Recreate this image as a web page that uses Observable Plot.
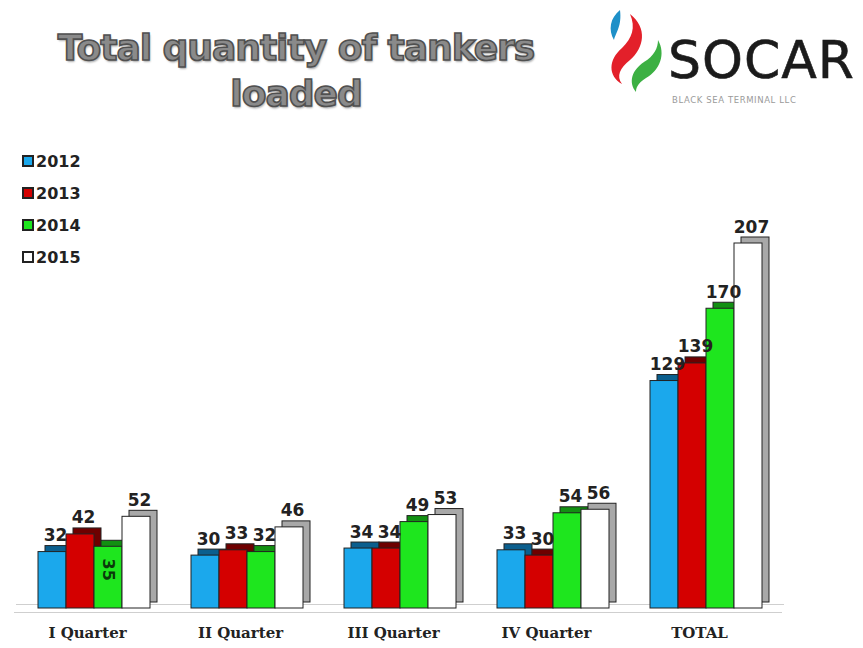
<!DOCTYPE html>
<html>
<head>
<meta charset="utf-8">
<script src="https://cdn.jsdelivr.net/npm/d3@7"></script>
<script src="https://cdn.jsdelivr.net/npm/@observablehq/plot@0.6"></script>
<style>
  html, body { margin: 0; padding: 0; background: #fff; }
  #wrap { position: relative; width: 863px; height: 648px; overflow: hidden; font-family: "DejaVu Sans", sans-serif; }
  #header { position: absolute; left: 0; top: 0; width: 863px; height: 130px; }
  #title { position: absolute; left: 6px; top: 25px; width: 580px; text-align: center;
    font-family: "DejaVu Sans", sans-serif; font-weight: 900; font-size: 36px; line-height: 46px;
    color: #8a8a8a; -webkit-text-stroke: 1.6px #505050; text-shadow: 1px 2px 2px #b0b0b0; letter-spacing: -1px; }
  #socar { position: absolute; left: 668px; top: 30px; font-family: "DejaVu Sans", sans-serif; font-size: 52px; color: #1b1b1b; letter-spacing: 1px; -webkit-text-stroke: 0.6px #1b1b1b; }
  #bst { position: absolute; left: 672px; top: 95px; font-family: "DejaVu Sans", sans-serif; font-size: 8.5px; color: #9a9a9a; letter-spacing: 0.6px; }
  #logo { position: absolute; left: 600px; top: 2px; }
  #chart { position: absolute; left: 0; top: 130px; }
  #legend { position: absolute; left: 22px; top: 145px; }
  .li { display: flex; align-items: center; height: 32px; font-family: "DejaVu Sans", sans-serif; font-weight: bold; font-size: 16px; color: #222; }
  .sw { width: 8px; height: 8px; border: 2px solid #222; margin-right: 2px; }
</style>
</head>
<body>
<div id="wrap">
  <div id="header">
    <div id="title">Total quantity of tankers<br>loaded</div>
    <svg id="logo" width="70" height="92" viewBox="0 0 70 92">
      <path d="M20 8 C10 16 8 28 14 38 C16 30 22 24 20 8 Z" fill="#1e90c8"/>
      <path d="M30 12 C48 26 44 46 30 58 C20 66 16 74 22 82 C8 74 8 58 22 46 C32 36 36 26 30 12 Z" fill="#e3202a"/>
      <path d="M58 38 C66 52 60 68 46 76 C40 80 36 84 36 90 C28 80 32 68 44 60 C54 54 58 46 58 38 Z" fill="#3cb043"/>
    </svg>
    <div id="socar">SOCAR</div>
    <div id="bst">BLACK SEA TERMINAL LLC</div>
  </div>
  <div id="chart"></div>
  <div id="legend"></div>
</div>
<script>
const quarters = ["I Quarter", "II Quarter", "III Quarter", "IV Quarter", "TOTAL"];
const years = ["2012", "2013", "2014", "2015"];
const v2012 = [32, 30, 34, 33, 129];
const v2013 = [42, 33, 34, 30, 139];
const v2014 = [35, 32, 49, 54, 170];
const v2015 = [52, 46, 53, 56, 207];
const insideLabels = ["I Quarter|2014"];

const series = {"2012": v2012, "2013": v2013, "2014": v2014, "2015": v2015};
const front = {"2012": "#1ba8ec", "2013": "#d40000", "2014": "#1ee61e", "2015": "#ffffff"};
const back = {"2012": "#0b5f8e", "2013": "#6e0000", "2014": "#129012", "2015": "#a8a8a8"};

const data = [];
quarters.forEach((q, i) => years.forEach(y => data.push({quarter: q, year: y, value: series[y][i]})));
const isInside = d => insideLabels.includes(d.quarter + "|" + d.year);

const chart = Plot.plot({
  width: 863,
  height: 518,
  marginTop: 113,
  marginBottom: 40,
  marginLeft: 38,
  marginRight: 101,
  fx: {domain: quarters, paddingInner: 0.27, paddingOuter: 0, label: null, axis: "bottom",
       tickSize: 0, tickPadding: 19},
  x: {domain: years, padding: 0, axis: null},
  y: {domain: [0, 207], axis: null},
  color: {type: "identity"},
  style: {fontFamily: "DejaVu Sans, sans-serif", background: "transparent", overflow: "visible"},
  marks: [
    Plot.ruleY([0], {stroke: "#cfcfcf", dy: -4, insetLeft: -22, insetRight: -22}),
    Plot.ruleY([0], {stroke: "#cfcfcf", dy: 4, insetLeft: -24, insetRight: -20}),
    Plot.barY(data, {fx: "quarter", x: "year", y: "value", fill: d => back[d.year], stroke: "#222", strokeWidth: 1, dx: 7, dy: -6}),
    Plot.barY(data, {fx: "quarter", x: "year", y: "value", fill: d => front[d.year], stroke: "#222", strokeWidth: 1}),
    Plot.text(data.filter(d => !isInside(d)), {fx: "quarter", x: "year", y: "value", text: d => String(d.value),
      dx: 3, dy: -11, lineAnchor: "bottom", fontWeight: "bold", fontSize: 17, fill: "#222"}),
    Plot.text(data.filter(isInside), {fx: "quarter", x: "year", y: d => d.value / 2, text: d => String(d.value),
      dy: -8, rotate: 90, fontWeight: "bold", fontSize: 16, fill: "#0a3a0a"})
  ]
});
chart.querySelectorAll('g[aria-label="fx-axis tick label"] text, g[aria-label="fx-axis tick label"]').forEach(el => {
  el.setAttribute("font-family", "DejaVu Serif, serif");
  el.setAttribute("font-weight", "bold");
  el.setAttribute("font-size", "15");
  el.setAttribute("fill", "#222");
});
const fxg = chart.querySelector('g[aria-label="fx-axis tick label"]');
if (fxg) fxg.setAttribute("transform", (fxg.getAttribute("transform") || "") + " translate(-7,0)");
document.getElementById("chart").appendChild(chart);

const legend = document.getElementById("legend");
years.forEach(y => {
  const row = document.createElement("div");
  row.className = "li";
  const sw = document.createElement("div");
  sw.className = "sw";
  sw.style.background = front[y];
  row.appendChild(sw);
  const t = document.createElement("span");
  t.textContent = y;
  row.appendChild(t);
  legend.appendChild(row);
});
</script>
</body>
</html>
